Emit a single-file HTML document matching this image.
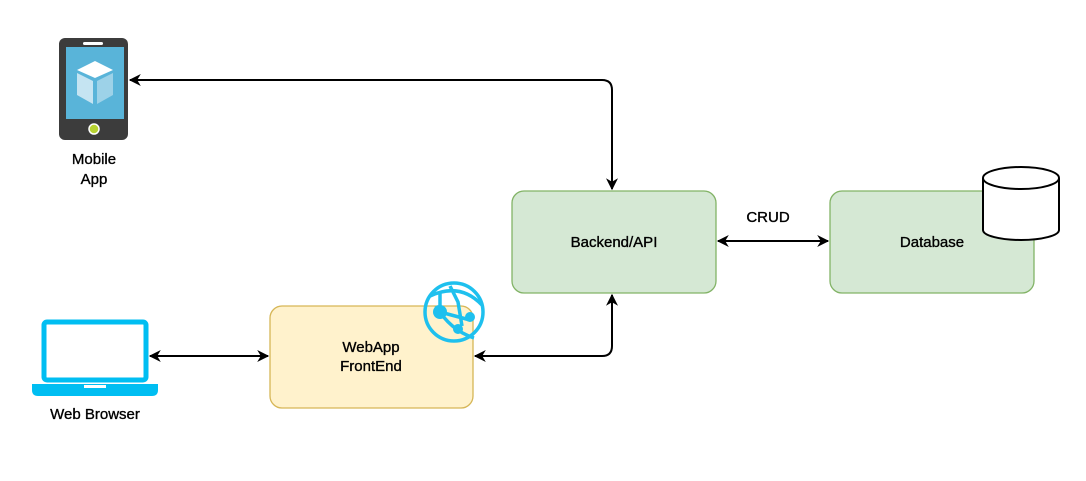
<!DOCTYPE html>
<html><head><style>
body{margin:0;background:#fff;width:1086px;height:476px;overflow:hidden}
svg{font-family:"Liberation Sans",Roboto,sans-serif}
text{stroke:#000;stroke-width:0.35}
</style></head><body>
<svg width="1086" height="476" viewBox="0 0 1086 476">
<defs>
<marker id="a" viewBox="0 0 10 10" refX="9" refY="5" markerWidth="13" markerHeight="12" orient="auto-start-reverse" markerUnits="userSpaceOnUse">
<path d="M0,0 L10,5 L0,10 L3,5 z" fill="#000"/></marker>
</defs>
<rect x="512" y="191" width="204" height="102" rx="12" fill="#d5e8d4" stroke="#82b366" stroke-width="1.3"/>
<rect x="830" y="191" width="204" height="102" rx="12" fill="#d5e8d4" stroke="#82b366" stroke-width="1.3"/>
<rect x="270" y="306" width="203" height="102" rx="12" fill="#fff2cc" stroke="#d6b656" stroke-width="1.3"/>
<text x="614" y="247" font-size="15" text-anchor="middle">Backend/API</text>
<text x="932" y="247" font-size="15" text-anchor="middle">Database</text>
<text x="371" y="352" font-size="15" text-anchor="middle">WebApp</text>
<text x="371" y="371" font-size="15" text-anchor="middle">FrontEnd</text>
<text x="768" y="222" font-size="15" text-anchor="middle">CRUD</text>
<path d="M983,178 L983,230 A38,10 0 0 0 1059,230 L1059,178" fill="#fff" stroke="#000" stroke-width="2"/>
<ellipse cx="1021" cy="178" rx="38" ry="11" fill="#fff" stroke="#000" stroke-width="2"/>
<g fill="none" stroke="#000" stroke-width="2">
<path d="M130,80 L602,80 Q612,80 612,90 L612,189" marker-start="url(#a)" marker-end="url(#a)"/>
<path d="M718,241 L828,241" marker-start="url(#a)" marker-end="url(#a)"/>
<path d="M150,356 L268,356" marker-start="url(#a)" marker-end="url(#a)"/>
<path d="M475,356 L602,356 Q612,356 612,346 L612,295" marker-start="url(#a)" marker-end="url(#a)"/>
</g>
<rect x="59" y="38" width="69" height="102" rx="6" fill="#3c3c3c"/>
<rect x="83" y="42" width="20" height="3" rx="1.5" fill="#fff"/>
<rect x="66" y="47" width="58" height="72" fill="#59b4d9"/>
<path d="M95,61 L113,70 L95,78 L77,70 z" fill="#fff"/>
<path d="M77,73 L93,81 L93,104 L77,95 z" fill="#c5e4f2"/>
<path d="M97,81 L113,73 L113,95 L97,104 z" fill="#9dd2e8"/>
<circle cx="94" cy="129" r="5" fill="#b8d432" stroke="#fff" stroke-width="1.5"/>
<text x="94" y="164" font-size="15" text-anchor="middle">Mobile</text>
<text x="94" y="184" font-size="15" text-anchor="middle">App</text>
<g stroke="#1ec0ee" stroke-width="3.5" fill="none">
<circle cx="454" cy="312" r="29"/>
<path d="M430,296 Q460,282 482,305"/>
<path d="M436,306 Q450,330 474,338"/>
<path d="M440,292 L440,312 L470,320"/>
<path d="M450,286 L458,302 L462,326"/>
</g>
<g fill="#1ec0ee"><circle cx="440" cy="312" r="7"/><circle cx="470" cy="317" r="5"/><circle cx="458" cy="329" r="5"/></g>
<rect x="44" y="322" width="102" height="58" rx="3" fill="none" stroke="#00bef2" stroke-width="5"/>
<path d="M32,384 L158,384 L158,390 Q158,396 152,396 L38,396 Q32,396 32,390 z" fill="#00bef2"/>
<rect x="84" y="385" width="22" height="3" fill="#fff"/>
<text x="95" y="419" font-size="15" text-anchor="middle">Web Browser</text>
</svg>
</body></html>
